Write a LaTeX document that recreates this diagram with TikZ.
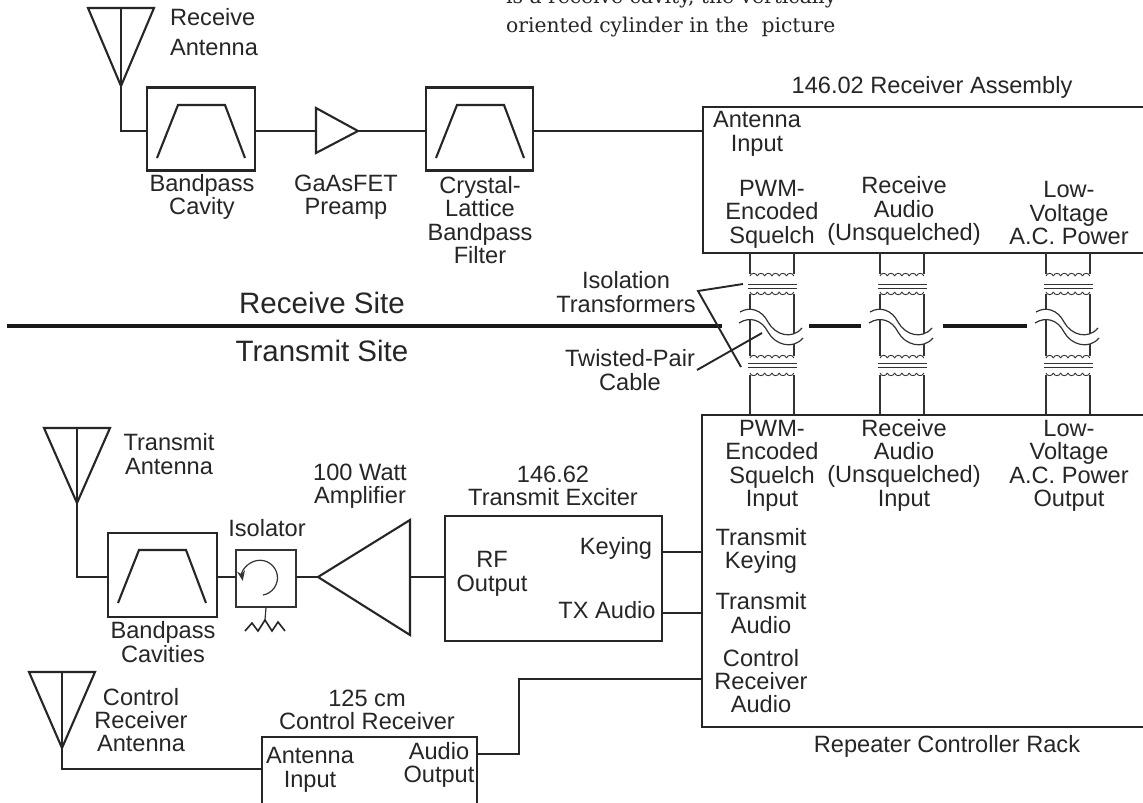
\documentclass[tikz,border=0pt]{standalone}
\usepackage{fontspec}
\setmainfont{Liberation Sans}
\newfontfamily\topserif{DejaVu Serif}
\usetikzlibrary{arrows.meta}
\tikzset{
  lbl/.style={inner sep=0pt,align=center,font=\fontsize{23.6}{23.4}\selectfont,text=black!85},
  sitelbl/.style={lbl,font=\fontsize{29.5}{30}\selectfont},
  wire/.style={line width=2.1pt,draw=black!85,line join=miter},
  thinw/.style={line width=1.2pt,draw=black!80},
  heavy/.style={line width=3.4pt,draw=black!90},
  blockn/.style={draw=black!85,line width=2.2pt,inner sep=0pt,fill=none},
  isobox/.style={draw=black!80,line width=1.1pt,inner sep=0pt},
}
\newcommand\xantenna[4]{% left x, right x, top y, apex y
  \draw[wire,line join=miter] (#1,#3) -- (#2,#3) -- ({(#1+#2)/2},#4) -- cycle;
  \draw[wire] ({(#1+#2)/2},#3) -- ({(#1+#2)/2},#4);
}
\newcommand\xpass[2]{% box left x, top y
  \draw[wire] (#1+10,#2+70) -- (#1+31,#2+17) -- (#1+78,#2+17) -- (#1+98,#2+70);
}
\newcommand\xcoil[3]{% x, y, sign
  \foreach \k in {0,...,5}{
    \draw[thinw,line width=0.9pt] ({#1+\k*7.3},#2) .. controls ({#1+\k*7.3+1},{#2+#3*3.5}) and ({#1+\k*7.3+6.3},{#2+#3*3.5}) .. ({#1+(\k+1)*7.3},#2);
  }
}
\newcommand\xformer[1]{% left x of pair
  \draw[thinw] (#1,253) -- (#1,274) (#1+44,253) -- (#1+44,274);
  \xcoil{#1}{276}{-1}
  \draw[thinw] (#1-2,284.5) -- (#1+47,284.5) (#1-2,288.5) -- (#1+47,288.5);
  \xcoil{#1}{292}{1}
  \draw[thinw] (#1,294) -- (#1,356) (#1+44,294) -- (#1+44,356);
  \xcoil{#1}{358}{-1}
  \draw[thinw] (#1-2,363.5) -- (#1+47,363.5) (#1-2,367.5) -- (#1+47,367.5);
  \xcoil{#1}{373}{1}
  \draw[thinw] (#1,375) -- (#1,415) (#1+44,375) -- (#1+44,415);
}
\newcommand\xbreak[1]{% x offset
  \begin{scope}[xshift=#1pt]
  \fill[white] (740,312) .. controls (750,306) and (762,310) .. (768,322) .. controls (775,335) and (792,340) .. (802,328)
    -- (803,338) .. controls (793,350) and (775,345) .. (768,332) .. controls (762,320) and (750,316) .. (739,323) -- cycle;
  \draw[thinw] (740,312) .. controls (750,306) and (762,310) .. (768,322) .. controls (775,335) and (792,340) .. (802,328);
  \draw[thinw] (739,323) .. controls (750,316) and (762,320) .. (768,332) .. controls (775,345) and (793,350) .. (803,338);
  \end{scope}
}
\begin{document}
\begin{tikzpicture}[x=1pt,y=-1pt]
\useasboundingbox (0,0) rectangle (1143,803);
\fill[white] (0,0) rectangle (1143,803);
\clip (0,0) rectangle (1143,803);

% top caption
\node[anchor=base west,inner sep=0pt,font=\topserif\fontsize{20.3}{26}\selectfont,text=black!85] (capa) at (506,3) {is a receive cavity, the vertically};
\node[anchor=base west,inner sep=0pt,font=\topserif\fontsize{20.3}{26}\selectfont,text=black!85] (capb) at (506,32) {oriented cylinder in the\ \ picture};

% ---- receive chain
\xantenna{88}{154}{8}{86}
\coordinate (rxapex) at (121,86);
\node[blockn,minimum width=108pt,minimum height=83pt] (bp1) at (201,129) {};
\xpass{147}{88}
\coordinate (bp1in) at (147,131);
\coordinate (bp1out) at (255,131);
\draw[wire] (rxapex) |- (bp1in);
\draw[wire,line join=miter] (316,108) -- (358,131) -- (316,153) -- cycle;
\coordinate (prein) at (316,131);
\coordinate (preout) at (358,131);
\draw[wire] (bp1out) -- (prein);
\node[blockn,minimum width=107pt,minimum height=83pt] (xtal) at (479.5,129) {};
\xpass{426}{88}
\coordinate (xtalin) at (426,131);
\coordinate (xtalout) at (533,131);
\draw[wire] (preout) -- (xtalin);
\draw[wire] (1143,107) -- (703,107) -- (703,253) -- (1143,253);
\coordinate (rxant) at (703,131);
\draw[wire] (xtalout) -- (rxant);

% ---- transformers
\xformer{750}
\xformer{880}
\xformer{1046}

% ---- site divider
\coordinate (dv0) at (7,326);
\coordinate (dv1) at (722,326);
\draw[heavy] (dv0) -- (dv1);
\draw[heavy] (809,326) -- (861,326);
\draw[heavy] (943,326) -- (1027,326);
\xbreak{0}
\xbreak{130}
\xbreak{296}

% leaders
\coordinate (la) at (743,284);
\coordinate (lb) at (698,291);
\coordinate (lc) at (741,367);
\coordinate (ld) at (697,370);
\coordinate (le) at (762,333);
\draw[wire,line width=1.9pt] (la) -- (lb) -- (lc);
\draw[wire,line width=1.9pt] (ld) -- (le);

% ---- controller rack
\draw[wire] (1143,415) -- (702,415) -- (702,727) -- (1143,727);

% ---- transmit chain
\xantenna{44}{110}{428}{503}
\coordinate (txapex) at (77,503);
\node[blockn,minimum width=109pt,minimum height=84pt] (bp2) at (162.5,575) {};
\xpass{108}{533}
\coordinate (bp2in) at (108,577);
\coordinate (bp2out) at (217,577);
\draw[wire] (txapex) |- (bp2in);
\node[isobox,minimum width=60pt,minimum height=57pt] (iso) at (266,578.5) {};
\coordinate (isoin) at (236,577);
\coordinate (isoout) at (296,577);
\draw[wire] (bp2out) -- (isoin);
\draw[thinw,-{Stealth[length=10pt,width=8pt]}] (263,595) arc[start angle=80,end angle=-190,radius=17.5,y radius=17.5];
\coordinate (rtop) at (iso.south);
\draw[thinw] (rtop) -- (265,620);
\draw[wire,line width=1.6pt] (245,631) -- (252,623) -- (258,631) -- (265,620) -- (272,631) -- (278,622) -- (285,631);
\draw[wire,line join=miter] (318,577) -- (410,520) -- (410,635) -- cycle;
\coordinate (ampin) at (318,577);
\coordinate (ampout) at (410,577);
\draw[wire] (isoout) -- (ampin);
\node[blockn,minimum width=217pt,minimum height=125pt] (exc) at (553.5,578.5) {};
\coordinate (excin) at (445,577);
\coordinate (exck) at (662,552);
\coordinate (exca) at (662,613);
\coordinate (ctlk) at (702,552);
\coordinate (ctla) at (702,613);
\draw[wire] (ampout) -- (excin);
\draw[wire] (exck) -- (ctlk);
\draw[wire] (exca) -- (ctla);

% ---- control receiver
\xantenna{29}{95}{672}{748}
\coordinate (crapex) at (62,748);
\draw[wire] (262,810) -- (262,737) -- (477,737) -- (477,810);
\coordinate (crin) at (262,769);
\coordinate (crout) at (477,754);
\coordinate (ctlc) at (702,679);
\draw[wire] (crapex) |- (crin);
\draw[wire] (crout) -| (519,679) -- (ctlc);

% ---- labels
\node[lbl,align=left,font=\fontsize{23.6}{30}\selectfont] (t1) at (214,32) {Receive\\Antenna};
\node[lbl] (t2) at (202,197) {Bandpass\\Cavity};
\node[lbl] (t3) at (346,197) {GaAsFET\\Preamp};
\node[lbl] (t4) at (480,220) {Crystal-\\Lattice\\Bandpass\\Filter};
\node[lbl] (t5) at (932,87) {146.02 Receiver Assembly};
\node[lbl] (t6) at (757,134) {Antenna\\Input};
\node[lbl] (t7) at (772,214) {PWM-\\Encoded\\Squelch};
\node[lbl] (t8) at (904,211) {Receive\\Audio\\(Unsquelched)};
\node[lbl] (t9) at (1069,213) {Low-\\Voltage\\A.C. Power};
\node[sitelbl] (t10) at (322,303) {Receive Site};
\node[sitelbl] (t11) at (322,351) {Transmit Site};
\node[lbl] (t12) at (626,292) {Isolation\\Transformers};
\node[lbl] (t13) at (630,370) {Twisted-Pair\\Cable};
\node[lbl] (t14) at (772,466) {PWM-\\Encoded\\Squelch\\Input};
\node[lbl] (t15) at (904,465) {Receive\\Audio\\(Unsquelched)\\Input};
\node[lbl] (t16) at (1069,466) {Low-\\Voltage\\A.C. Power\\Output};
\node[lbl] (t17) at (761,551) {Transmit\\Keying};
\node[lbl] (t18) at (761,613) {Transmit\\Audio};
\node[lbl] (t19) at (761,681) {Control\\Receiver\\Audio};
\node[lbl] (t20) at (947,746) {Repeater Controller Rack};
\node[lbl] (t21) at (616,548) {Keying};
\node[lbl] (t22) at (607,610) {TX Audio};
\node[lbl] (t23) at (492,574) {RF\\Output};
\node[lbl] (t24) at (553,486) {146.62\\Transmit Exciter};
\node[lbl] (t25) at (360,486) {100 Watt\\Amplifier};
\node[lbl] (t26) at (267,528) {Isolator};
\node[lbl] (t27) at (169,454) {Transmit\\Antenna};
\node[lbl] (t28) at (163,642) {Bandpass\\Cavities};
\node[lbl] (t29) at (141,720) {Control\\Receiver\\Antenna};
\node[lbl] (t30) at (367,710) {125 cm\\Control Receiver};
\node[lbl] (t31) at (310,770) {Antenna\\Input};
\node[lbl] (t32) at (439,765) {Audio\\Output};
\end{tikzpicture}
\end{document}
